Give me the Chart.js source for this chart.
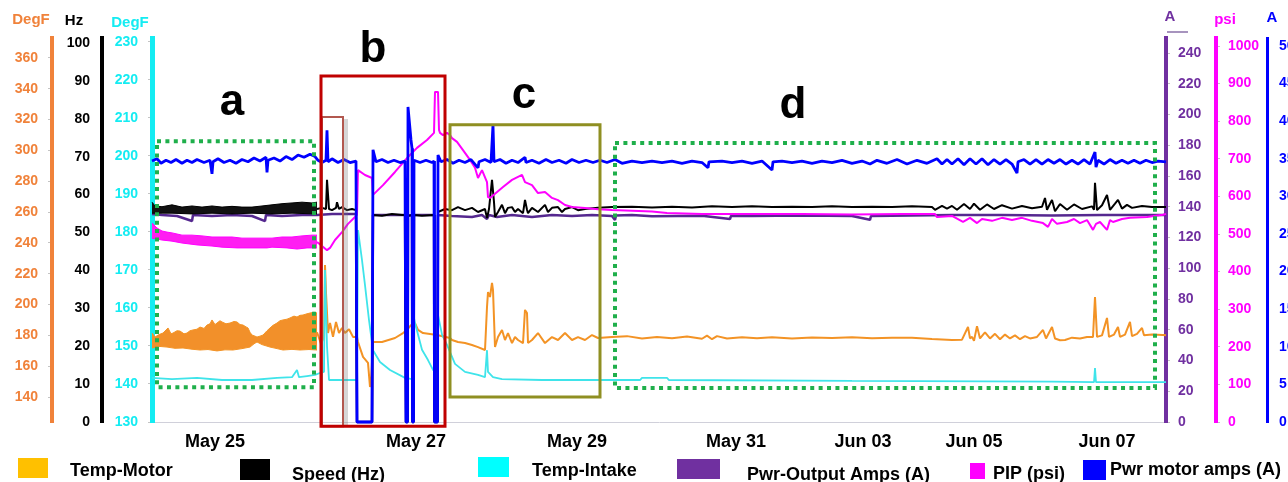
<!DOCTYPE html>
<html><head><meta charset="utf-8">
<script src="https://cdn.jsdelivr.net/npm/chart.js@4/dist/chart.umd.min.js"></script>
<style>html,body{margin:0;padding:0;background:#fff;overflow:hidden}#wrap{width:1288px;height:482px;position:relative}</style>
</head><body><div id="wrap"><canvas id="c" width="1288" height="482"></canvas></div>
<script>
// ---------- DATA (x = sample index along the time axis) ----------
const dateTickPos = [63, 264, 425, 584, 711, 822, 955];
const dateTickLabels = ['May 25', 'May 27', 'May 29', 'May 31', 'Jun 03', 'Jun 05', 'Jun 07'];

const tempMotorTicks = [140,160,180,200,220,240,260,280,300,320,340,360];
const speedTicks = [0,10,20,30,40,50,60,70,80,90,100];
const tempIntakeTicks = [130,140,150,160,170,180,190,200,210,220,230];
const outAmpsTicks = [0,20,40,60,80,100,120,140,160,180,200,220,240];
const pipTicks = [0,100,200,300,400,500,600,700,800,900,1000];
const motorAmpsTicks = [0,5,10,15,20,25,30,35,40,45,50];

const seriesNames = ['Temp-Motor', 'Speed (Hz)', 'Temp-Intake', 'Pwr-Output Amps (A)', 'PIP (psi)', 'Pwr motor amps (A)'];

// Temp-Motor (DegF) – dense noisy band (upper/lower edges) then the trace
const tempMotorBandHi = [[0,181.5],[3,178.9],[7,180.5],[11,181.5],[16,184.8],[19,181],[21,181.5],[25,183],[28,182.8],[32,181],[35,181.5],[38,183],[41,183.5],[45,184],[48,185.4],[52,184.5],[55,186.7],[58,187.5],[60,190.0],[63,187],[65,188.0],[68,189.5],[70,188.7],[74,187.5],[78,188.0],[82,189],[85,188.7],[88,187],[91,186.7],[94,185.5],[96,184.8],[98,182],[100,180.2],[103,179.5],[105,178.9],[108,179.5],[111,180.2],[115,183],[118,184.8],[121,186.5],[125,188.0],[128,189.5],[131,190.0],[135,190.5],[138,191.3],[142,192.5],[145,191.9],[148,193],[151,193.2],[155,194],[158,194.5],[162,195],[165,194.5]];
const tempMotorBandLo = [[0,171.8],[8,172.8],[15,172.4],[23,171.6],[31,171.8],[40,171.0],[48,170.5],[56,170.8],[65,169.9],[73,170.6],[81,170.5],[90,171.4],[98,172.4],[102,174.5],[105,175.7],[110,174],[118,172.4],[125,171.4],[131,170.5],[140,170.9],[148,170.5],[157,170.8],[165,170.5]];
const tempMotor = [[165,182],[166,180.2],[169,174.4],[172,179],[173,225.7],[174,207.5],[176,181.5],[178,188.0],[181,179],[184,188.7],[187,181.5],[190,184.8],[193,181.5],[197,184],[201,179],[205,178.9],[206,175.7],[211,166.0],[216,162.1],[218,146.5],[219,150],[221,175.7],[230,175.7],[243,178.3],[251,181.5],[255,183.5],[259,186.7],[263,188.0],[266,183.5],[271,181.5],[285,180.2],[298,178.3],[300,177.0],[306,175.7],[313,175.0],[320,173.7],[326,172.4],[333,170.5],[335,198.4],[336,208.1],[338,204.9],[340,214.0],[341,209.4],[343,172.4],[346,178.9],[350,183.5],[353,177.0],[356,181.5],[360,175.0],[363,178.9],[366,177.0],[371,175.0],[373,196.5],[375,194.5],[376,175.0],[380,177.0],[386,181.5],[393,175.0],[400,178.9],[406,177.0],[413,181.5],[420,177.0],[426,178.9],[433,177.0],[440,180.2],[446,178.3],[460,178.9],[475,179.5],[490,178.0],[505,179.0],[520,178.2],[535,179.3],[550,177.8],[555,179.8],[560,177.5],[565,179.5],[575,178.0],[590,178.8],[605,178.2],[620,178.8],[640,178.0],[660,178.6],[680,178.3],[700,178.7],[720,178.2],[740,178.5],[760,178.4],[780,177.6],[800,177.0],[810,177.2],[816,185.4],[818,178],[820,179],[822,176.5],[825,186],[828,178],[833,182],[838,178],[843,181],[848,177.5],[853,180.5],[858,178],[863,180],[868,177.5],[873,179.5],[878,178],[885,179],[891,183.5],[894,178],[900,185.4],[903,178],[908,176.8],[913,177],[920,178.5],[928,178],[935,179],[941,179],[943,204.9],[945,179],[950,180],[955,191.3],[957,179],[962,180.5],[966,185.4],[968,179],[973,180.5],[978,188.7],[980,179.5],[985,181],[990,184.8],[992,180],[1000,180.5],[1011,180.2],[1014,180]];

// Temp-Intake (DegF)
const tempIntake = [[0,141.6],[20,141.3],[45,141.6],[70,141.05],[100,141.05],[125,141.6],[140,141.8],[145,143.7],[147,141.8],[155,142.1],[163,142.4],[168,142.9],[172,143.2],[173,170.0],[175,150],[177,141.05],[205,141.05],[206,180.5],[210,172.6],[213,166],[217,156.8],[221,148.9],[228,145.8],[238,143.7],[253,141.6],[260,141.3],[261,158.7],[263,156.05],[270,149],[276,146.3],[281,143.7],[285,143.2],[286,158.2],[290,153],[295,150.3],[303,145.3],[313,143.2],[326,142.4],[333,141.8],[335,148.9],[336,143.2],[341,141.8],[350,141.3],[390,141.05],[460,141.05],[488,141.05],[490,141.6],[515,141.6],[517,141.05],[700,140.8],[900,140.6],[942,140.5],[943,144.2],[944,140.5],[1014,140.5]];

// Speed (Hz)
const speedBandHi = [[0,58.0],[3,57.0],[10,56.8],[20,57.3],[30,56.7],[40,57.0],[50,56.7],[60,57.0],[70,56.7],[80,56.9],[90,56.7],[100,56.7],[110,57.0],[120,57.3],[130,57.6],[140,57.8],[150,58.0],[160,57.8],[165,58.0]];
const speedBandLo = [[0,55.1],[20,55.1],[40,54.9],[60,55.1],[80,54.9],[100,55.1],[120,54.9],[140,55.1],[165,54.9]];
const speed = [[165,56.2],[170,56.5],[174,56.2],[175,63.9],[177,56.2],[180,55.9],[184,56.5],[185,58.0],[187,56.2],[190,56.7],[195,55.9],[200,56.2],[204,55.9],[205,0],[220,0],[221,54.6],[230,54.4],[240,54.9],[250,54.6],[253,54.6],[254,0],[255.5,0],[256,54.4],[260,54.6],[260.5,0],[261.5,0],[262,54.6],[270,54.4],[282,54.6],[282.5,0],[285.5,0],[286,55.4],[293,56.2],[300,55.9],[306,56.7],[313,55.9],[320,56.5],[326,55.4],[333,56.2],[335,53.8],[337,56.2],[340,63.9],[342,58],[343,54.1],[346,55.4],[350,57.3],[353,55.1],[356,56.5],[360,56.7],[363,55.4],[366,56.2],[371,55.1],[373,58.6],[375,56],[376,55.1],[380,56.5],[386,55.4],[393,57.3],[396,55.4],[400,56.5],[406,56.7],[410,55.4],[413,56.2],[420,56.7],[426,55.9],[433,56.2],[446,56.5],[460,56.7],[480,56.8],[500,56.6],[520,56.8],[540,56.6],[560,56.9],[580,56.7],[600,56.9],[620,56.7],[640,56.8],[660,56.7],[680,56.9],[700,56.7],[720,56.8],[740,56.7],[760,56.9],[780,56.7],[783,56.0],[790,57.0],[795,56.3],[800,57.0],[805,56.0],[812,57.5],[818,56.2],[822,57.6],[828,56.0],[835,57.4],[842,56.2],[850,57.2],[860,56.3],[870,57.0],[880,56.4],[890,56.8],[893,59.1],[895,56.0],[900,58.6],[903,55.6],[908,57.5],[915,56.0],[922,57.4],[930,56.2],[940,56.9],[942,56],[943,63.1],[945,55.9],[950,57.2],[955,59.9],[958,56.0],[963,57.6],[966,58.6],[970,56.3],[975,57.3],[980,56.5],[990,57.0],[1000,56.7],[1014,56.7]];

// Pwr-Output Amps (A)
const outAmps = [[0,135.3],[10,134.6],[25,134.0],[40,130.7],[41,134.6],[60,134.0],[80,134.6],[100,134.0],[113,130.7],[114,134.6],[130,134.0],[150,134.6],[165,134.6],[180,135.3],[204,135.3],[205,0],[220,0],[221,134.6],[253,134.6],[254,0],[255.5,0],[256,134.0],[260,134.6],[260.5,0],[261.5,0],[262,134.6],[282,134.6],[282.5,0],[285.5,0],[286,134.6],[300,134.0],[320,133.3],[330,134.6],[335,132.0],[337,134.6],[345,133.3],[360,134.6],[380,133.3],[400,134.6],[420,134.0],[440,134.6],[460,134.0],[463,131.4],[464,134.3],[480,134.6],[500,133.8],[550,134.2],[578,132.0],[579,134.0],[600,134.0],[650,134.3],[700,134.0],[718,131.5],[719,134.0],[760,134.3],[800,134.6],[850,134.6],[900,134.3],[950,134.6],[1000,134.6],[1014,134.6]];

// PIP (psi)
const pipBandHi = [[0,529],[5,516],[10,508],[15,505],[20,503],[25,500],[30,497],[40,497],[50,495],[60,492],[70,492],[80,492],[90,489],[100,489],[110,489],[120,489],[130,492],[140,492],[150,495],[160,497],[165,497]];
const pipBandLo = [[0,489],[10,484],[20,481],[30,476],[45,471],[60,468],[70,465],[85,463],[100,463],[115,463],[120,465],[135,463],[145,460],[155,463],[165,463]];
const pip = [[165,479],[170,468],[175,457],[178,463],[183,484],[190,505],[196,527],[203,545],[205,551],[206,670],[213,657],[220,649],[221,604],[231,630],[243,665],[255,702],[265,729],[275,750],[282,769],[283,878],[286,878],[287,777],[288,769],[291,763],[295,769],[298,763],[300,755],[305,745],[311,723],[318,697],[323,676],[326,649],[330,670],[335,638],[336,598],[338,596],[351,625],[360,644],[370,657],[373,638],[380,630],[386,609],[393,612],[400,596],[406,590],[413,577],[420,572],[433,569],[446,566],[460,564],[500,560],[515,556],[550,553],[600,553],[650,553],[700,552],[750,553],[783,553],[785,545],[800,548],[811,532],[818,543],[825,529],[830,540],[840,535],[850,543],[860,537],[870,543],[880,535],[891,529],[896,519],[900,540],[905,527],[915,532],[922,540],[928,529],[935,537],[941,511],[944,527],[948,532],[955,511],[958,537],[961,532],[970,540],[978,543],[995,545],[1011,551],[1014,553]];

// Pwr motor amps (A)
const motorAmps = [[0,34.7],[5,35.0],[9,34.4],[14,34.8],[19,34.5],[24,34.9],[30,34.4],[35,34.8],[40,34.5],[45,34.9],[52,34.5],[58,34.8],[60,33.0],[61,34.6],[66,35.0],[72,34.5],[78,34.8],[84,34.4],[90,34.9],[96,34.6],[102,35.1],[108,34.7],[114,35.2],[115,33.2],[116,34.8],[122,35.1],[128,34.7],[134,35.3],[140,34.9],[146,35.5],[152,35.2],[158,35.6],[163,35.3],[166,34.8],[170,34.5],[174,34.8],[175,38.8],[176,34.6],[180,35.0],[186,34.5],[192,34.9],[198,34.5],[204,34.7],[205,0],[220,0],[221,36.2],[224,34.6],[230,34.9],[236,34.5],[242,34.8],[248,34.5],[253,34.7],[254,0],[255.5,0],[256,41.9],[259,37.5],[260,36.4],[260.5,0],[261.5,0],[262,34.8],[268,34.5],[274,34.8],[280,34.5],[282,34.7],[282.5,0],[285.5,0],[286,35.5],[289,34.6],[295,34.9],[301,34.4],[307,34.8],[313,34.5],[319,34.9],[326,33.8],[327,34.6],[333,34.9],[339,34.5],[341,39.5],[342,34.6],[348,34.9],[354,34.4],[360,34.8],[366,34.5],[373,35.2],[374,34.5],[380,34.8],[387,34.4],[394,34.9],[400,34.5],[407,34.8],[414,34.4],[420,34.9],[427,34.5],[434,34.8],[441,34.5],[448,34.8],[455,34.5],[463,34.9],[470,34.4],[480,34.7],[490,34.5],[500,34.7],[510,34.5],[520,34.7],[530,34.4],[540,34.7],[550,34.5],[556,33.8],[557,34.6],[570,34.7],[580,34.5],[590,34.7],[600,34.4],[610,34.7],[620,33.5],[621,34.6],[630,34.7],[640,34.5],[650,34.7],[660,34.4],[670,34.7],[680,34.5],[690,34.8],[700,34.4],[710,34.7],[718,34.3],[725,34.8],[735,34.4],[745,34.9],[755,34.3],[765,34.8],[775,34.4],[785,35.0],[790,34.3],[795,34.9],[800,34.3],[806,35.0],[812,34.2],[818,35.0],[824,34.3],[830,35.0],[836,34.2],[842,34.9],[848,34.3],[854,34.9],[860,34.3],[865,33.1],[866,34.6],[872,34.9],[878,34.3],[884,34.9],[890,34.3],[896,34.9],[902,34.4],[908,34.9],[914,34.3],[920,34.8],[926,34.3],[932,34.9],[938,34.3],[943,35.9],[944,33.9],[946,34.8],[952,34.3],[958,34.9],[964,34.4],[970,34.8],[976,34.4],[982,34.8],[988,34.4],[994,34.8],[1000,34.5],[1006,34.7],[1014,34.6]];

// Annotated regions [xStart, xEnd, low, high] in time index / Hz-axis units
const regionA = [5, 162, 9.2, 74.1];
const regionB = [169, 293, -1.1, 91.3];
const regionBInner = [170, 191, -1.1, 80.5];
const regionC = [298, 448, 6.6, 78.4];
const regionD = [463, 1003, 9.0, 73.6];
const regionLabels = [['a', 80, 81.0], ['b', 221, 95.0], ['c', 372, 82.8], ['d', 641, 80.2]];

// ---------- STYLE ----------
const FONT = '"Liberation Sans", Arial, Helvetica, sans-serif';
const C = {
  orangeAxis: '#F0823A', orangeLine: '#F39325', orangeLegend: '#FFC000',
  black: '#000000',
  cyanAxis: '#14ECF2', cyanLine: '#3FE4EA', cyanLegend: '#00FFFF',
  purpleAxis: '#7030A0', purpleLine: '#55288F',
  magenta: '#FF00FF', blue: '#0000FF'
};
const pts = a => a.map(([x, y]) => ({x, y}));

function yAxis(position, weight, width, min, max, tickVals, color, tickLen, pad, borderW) {
  return {
    type: 'linear', position, weight, min, max,
    afterFit: s => { s.width = width; },
    afterBuildTicks: s => { s.ticks = tickVals.map(v => ({value: v})); },
    ticks: {color, font: {family: FONT, size: 14, weight: 'bold'}, padding: pad, autoSkip: false,
            callback: v => String(v)},
    grid: {display: true, drawOnChartArea: false, drawTicks: tickLen > 0, tickLength: tickLen, color: '#C4C4C4', lineWidth: 1},
    border: {display: true, color, width: borderW}
  };
}

function line(label, data, axis, color, width, extra) {
  return Object.assign({label, data: pts(data), yAxisID: axis, borderColor: color, backgroundColor: color,
    borderWidth: width, pointRadius: 0, tension: 0, fill: false, clip: false, borderJoinStyle: 'bevel'}, extra || {});
}

const datasets = [
  line(seriesNames[5], motorAmps, 'ma', C.blue, 2.8),
  line(seriesNames[4], pip, 'psi', C.magenta, 2),
  line('PIP band hi', pipBandHi, 'psi', C.magenta, 1),
  line('PIP band lo', pipBandLo, 'psi', C.magenta, 1, {fill: '-1', backgroundColor: '#FF1EF2'}),
  line(seriesNames[1], speed, 'hz', C.black, 2),
  line('Speed band hi', speedBandHi, 'hz', C.black, 1),
  line('Speed band lo', speedBandLo, 'hz', C.black, 1, {fill: '-1', backgroundColor: '#111111'}),
  line(seriesNames[3], outAmps, 'po', C.purpleLine, 2.5),
  line(seriesNames[2], tempIntake, 'ti', C.cyanLine, 1.8),
  line(seriesNames[0], tempMotor, 'tm', C.orangeLine, 2),
  line('Temp band hi', tempMotorBandHi, 'tm', C.orangeLine, 1),
  line('Temp band lo', tempMotorBandLo, 'tm', C.orangeLine, 1, {fill: '-1', backgroundColor: '#F2902A'})
];

const annotPlugin = {
  id: 'annot',
  afterDatasetsDraw(chart) {
    const {ctx, scales: {x, hz}} = chart;
    const px = v => x.getPixelForValue(v), py = v => hz.getPixelForValue(v);
    const rect = (r, color, w, dash) => {
      ctx.beginPath(); ctx.lineWidth = w; ctx.strokeStyle = color; ctx.setLineDash(dash || []);
      ctx.rect(px(r[0]), py(r[3]), px(r[1]) - px(r[0]), py(r[2]) - py(r[3])); ctx.stroke();
    };
    ctx.save();
    ctx.lineCap = 'butt';
    ctx.beginPath(); ctx.strokeStyle = 'rgba(120,120,120,0.30)'; ctx.lineWidth = 4;
    ctx.moveTo(px(regionBInner[1]) + 3, py(regionBInner[3]) + 2); ctx.lineTo(px(regionBInner[1]) + 3, py(regionBInner[2])); ctx.stroke();
    rect(regionBInner, '#B2584F', 2);
    rect(regionA, '#1FAF4B', 4, [4, 4.4]);
    rect(regionD, '#1FAF4B', 4, [4, 4.4]);
    rect(regionC, '#8F8F22', 3);
    rect(regionB, '#C00000', 3);
    ctx.setLineDash([]);
    ctx.fillStyle = '#000'; ctx.textAlign = 'center'; ctx.textBaseline = 'alphabetic';
    ctx.font = 'bold 44px ' + FONT;
    regionLabels.forEach(([t, xv, yv]) => ctx.fillText(t, px(xv), py(yv)));
    ctx.restore();
  },
  afterDraw(chart) {
    const ctx = chart.ctx;
    ctx.save();
    ctx.font = 'bold 15px ' + FONT; ctx.textAlign = 'center'; ctx.textBaseline = 'middle';
    [['DegF', 31, 20, C.orangeAxis], ['Hz', 74, 21, C.black], ['DegF', 130, 23, C.cyanAxis],
     ['A', 1170, 17, C.purpleAxis], ['psi', 1225, 20, C.magenta], ['A', 1272, 18, C.blue]]
      .forEach(([t, x, y, c]) => { ctx.fillStyle = c; ctx.fillText(t, x, y); });
    ctx.strokeStyle = '#8A70A8'; ctx.lineWidth = 1.5;
    ctx.beginPath(); ctx.moveTo(1167, 32); ctx.lineTo(1188, 32); ctx.stroke();
    const legendColors = [C.orangeLegend, C.black, C.cyanLegend, C.purpleAxis, C.magenta, C.blue];
    const legendLayout = [[18, 458, 30, 20, 70, 471], [240, 459, 30, 21, 292, 475], [478, 457, 31, 20, 532, 471],
                          [677, 459, 43, 20, 747, 475], [970, 463, 15, 16, 993, 474], [1083, 460, 23, 20, 1110, 470]];
    ctx.font = 'bold 18px ' + FONT; ctx.textAlign = 'left'; ctx.textBaseline = 'middle';
    seriesNames.forEach((n, i) => {
      const [sx, sy, sw, sh, tx, ty] = legendLayout[i];
      ctx.fillStyle = legendColors[i]; ctx.fillRect(sx, sy, sw, sh);
      ctx.fillStyle = '#000'; ctx.fillText(n, tx, ty);
    });
    ctx.restore();
  }
};

new Chart(document.getElementById('c'), {
  type: 'line',
  data: {datasets},
  plugins: [annotPlugin],
  options: {
    responsive: false, animation: false, events: [],
    layout: {padding: {top: 38, left: 0, right: 0, bottom: 0}},
    plugins: {legend: {display: false}, tooltip: {enabled: false}, title: {display: false}},
    scales: {
      x: {
        type: 'linear', min: 0, max: 1014,
        afterFit: s => { s.height = 60; },
        afterBuildTicks: s => { s.ticks = dateTickPos.map(v => ({value: v})); },
        ticks: {callback: (v, i) => dateTickLabels[i], color: '#000', font: {family: FONT, size: 18, weight: 'bold'},
                padding: 9, maxRotation: 0, autoSkip: false},
        grid: {display: false, drawTicks: false},
        border: {display: true, color: '#D0D0DA', width: 1}
      },
      tm: yAxis('left', 2, 52, 123.78, 372.96, tempMotorTicks, C.orangeAxis, 4, 10, 4),
      hz: yAxis('left', 1, 50, 0, 101.32, speedTicks, C.black, 0, 12, 4),
      ti: yAxis('left', 0, 50, 130, 231.05, tempIntakeTicks, C.cyanAxis, 4, 10, 5),
      po: yAxis('right', 0, 50, 0, 249.76, outAmpsTicks, C.purpleAxis, 4, 8, 4),
      psi: yAxis('right', 1, 51, 0, 1021.3, pipTicks, C.magenta, 4, 8, 4),
      ma: yAxis('right', 2, 21, 0, 51.06, motorAmpsTicks, C.blue, 0, 12, 3)
    }
  }
});
</script></body></html>
